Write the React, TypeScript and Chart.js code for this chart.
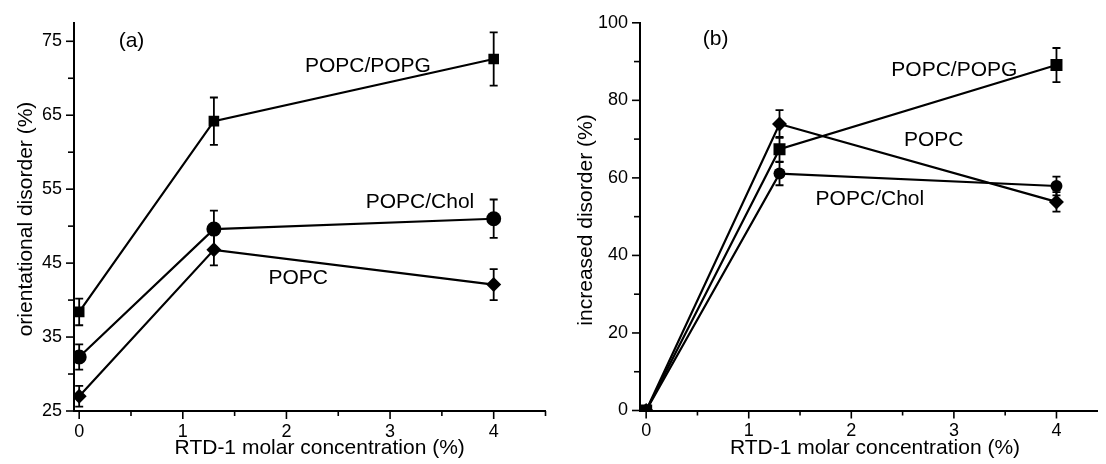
import React, { useEffect, useRef } from "react";
import { Chart, registerables } from "chart.js";

Chart.register(...registerables);

// ---------- data ----------
const xValues = [0, 1.3, 4];

// Panel (a): orientational disorder (%)
const aPopcPopg = [38.4, 64.2, 72.6];
const aPopcPopgErr = [1.8, 3.2, 3.6];
const aPopcChol = [32.3, 49.6, 51.0];
const aPopcCholErr = [1.7, 2.5, 2.6];
const aPopc = [27.0, 46.8, 42.1];
const aPopcErr = [1.4, 2.1, 2.1];

// Panel (b): increased disorder (%)
const bPopcPopg = [0, 67.4, 89.1];
const bPopcPopgErr = [0, 3.2, 4.4];
const bPopcChol = [0, 61.1, 57.9];
const bPopcCholErr = [0, 3.0, 2.4];
const bPopc = [0, 73.9, 53.8];
const bPopcErr = [0, 3.6, 2.5];

// tick values
const xMajor = [0, 1, 2, 3, 4];
const xMinor = [0.5, 1.5, 2.5, 3.5, 4.5];
const aYMajor = [25, 35, 45, 55, 65, 75];
const aYMinor = [30, 40, 50, 60, 70];
const bYMajor = [0, 20, 40, 60, 80, 100];
const bYMinor = [10, 30, 50, 70, 90];

// text labels
const xTitle = "RTD-1 molar concentration (%)";
const aYTitle = "orientational disorder (%)";
const bYTitle = "increased disorder (%)";

const aLabels = [
  { text: "(a)", x: 0.505, y: 74.26, align: "center" },
  { text: "POPC/POPG", x: 2.178, y: 70.78, align: "left" },
  { text: "POPC/Chol", x: 2.765, y: 52.39, align: "left" },
  { text: "POPC", x: 1.827, y: 42.15, align: "left" },
];
const bLabels = [
  { text: "(b)", x: 0.677, y: 94.36, align: "center" },
  { text: "POPC/POPG", x: 2.39, y: 86.4, align: "left" },
  { text: "POPC", x: 2.513, y: 68.2, align: "left" },
  { text: "POPC/Chol", x: 1.652, y: 52.9, align: "left" },
];

const FONT = "'Liberation Sans', Arial, Helvetica, sans-serif";

// ---------- plugins ----------
const errorBarPlugin = {
  id: "errorBars",
  beforeDatasetsDraw(chart: any) {
    const ctx = chart.ctx;
    const xs = chart.scales.x;
    const ys = chart.scales.y;
    ctx.save();
    ctx.strokeStyle = "#000";
    ctx.lineWidth = 1.8;
    chart.data.datasets.forEach((ds: any) => {
      const errs: number[] = ds.errors || [];
      ds.data.forEach((p: any, i: number) => {
        const e = errs[i];
        if (!e) return;
        const px = xs.getPixelForValue(p.x);
        const top = ys.getPixelForValue(p.y + e);
        const bot = ys.getPixelForValue(p.y - e);
        ctx.beginPath();
        ctx.moveTo(px, top);
        ctx.lineTo(px, bot);
        ctx.moveTo(px - 4, top);
        ctx.lineTo(px + 4, top);
        ctx.moveTo(px - 4, bot);
        ctx.lineTo(px + 4, bot);
        ctx.stroke();
      });
    });
    ctx.restore();
  },
};

const axisTickPlugin = {
  id: "axisTicks",
  afterDraw(chart: any, _args: any, opts: any) {
    const ctx = chart.ctx;
    const xs = chart.scales.x;
    const ys = chart.scales.y;
    const area = chart.chartArea;
    ctx.save();
    ctx.strokeStyle = "#000";
    ctx.lineWidth = 1.6;
    const xAxisY = area.bottom;
    const yAxisX = area.left;
    const drawX = (vals: number[], len: number) => {
      vals.forEach((v) => {
        const px = xs.getPixelForValue(v);
        if (px < area.left - 1 || px > area.right + 1) return;
        ctx.beginPath();
        ctx.moveTo(px, xAxisY);
        ctx.lineTo(px, xAxisY + len);
        ctx.stroke();
      });
    };
    const drawY = (vals: number[], len: number) => {
      vals.forEach((v) => {
        const py = ys.getPixelForValue(v);
        if (py < area.top - 1 || py > area.bottom + 1) return;
        ctx.beginPath();
        ctx.moveTo(yAxisX, py);
        ctx.lineTo(yAxisX - len, py);
        ctx.stroke();
      });
    };
    drawX(opts.xMajor, 8);
    drawX(opts.xMinor, 5);
    drawY(opts.yMajor, 8);
    drawY(opts.yMinor, 6);
    ctx.restore();
  },
};

const textLabelPlugin = {
  id: "textLabels",
  afterDraw(chart: any, _args: any, opts: any) {
    const ctx = chart.ctx;
    const xs = chart.scales.x;
    const ys = chart.scales.y;
    ctx.save();
    ctx.fillStyle = "#000";
    ctx.textBaseline = "alphabetic";
    ctx.font = `21px ${FONT}`;
    (opts.items || []).forEach((it: any) => {
      ctx.textAlign = it.align;
      ctx.fillText(it.text, xs.getPixelForValue(it.x), ys.getPixelForValue(it.y));
    });
    // axis titles
    ctx.textAlign = "center";
    ctx.fillText(opts.xTitle, opts.xTitleX, opts.xTitleBase);
    ctx.save();
    ctx.translate(opts.yTitleBase, opts.yTitleY);
    ctx.rotate(-Math.PI / 2);
    ctx.fillText(opts.yTitle, 0, 0);
    ctx.restore();
    ctx.restore();
  },
};

function makeDataset(vals: number[], errs: number[], style: string, radius: number) {
  return {
    data: xValues.map((x, i) => ({ x, y: vals[i] })),
    errors: errs,
    borderColor: "#000",
    backgroundColor: "#000",
    borderWidth: 2.2,
    pointStyle: style,
    pointRadius: radius,
    pointBorderWidth: 0,
    pointBackgroundColor: "#000",
    tension: 0,
    fill: false,
  };
}

function buildConfig(p: any) {
  return {
    type: "line",
    data: { datasets: p.datasets },
    plugins: [errorBarPlugin, axisTickPlugin, textLabelPlugin],
    options: {
      animation: false,
      responsive: false,
      maintainAspectRatio: false,
      layout: { padding: { left: 0, top: p.top, right: p.right, bottom: 0 } },
      plugins: {
        legend: { display: false },
        tooltip: { enabled: false },
        axisTicks: { xMajor, xMinor, yMajor: p.yMajor, yMinor: p.yMinor },
        textLabels: {
          items: p.labels,
          xTitle,
          yTitle: p.yTitle,
          xTitleX: p.xTitleX,
          xTitleBase: p.xTitleBase,
          yTitleY: p.yTitleY,
          yTitleBase: p.yTitleBase,
        },
      },
      scales: {
        x: {
          type: "linear",
          min: p.xMin,
          max: p.xMax,
          grid: { display: true, drawOnChartArea: false, drawTicks: false },
          border: { display: true, color: "#000", width: 2 },
          ticks: {
            color: "#000",
            font: { family: FONT, size: 18 },
            padding: 10,
            maxRotation: 0,
            autoSkip: false,
          },
          afterBuildTicks: (s: any) => {
            s.ticks = xMajor.map((v) => ({ value: v }));
          },
          afterFit: (s: any) => {
            s.height = 464 - p.bottom;
          },
        },
        y: {
          type: "linear",
          min: p.yMin,
          max: p.yMax,
          grid: { display: true, drawOnChartArea: false, drawTicks: false },
          border: { display: true, color: "#000", width: 2 },
          ticks: {
            color: "#000",
            font: { family: FONT, size: 18 },
            padding: 12,
            autoSkip: false,
          },
          afterBuildTicks: (s: any) => {
            s.ticks = p.yMajor.map((v: number) => ({ value: v }));
          },
          afterFit: (s: any) => {
            s.width = p.left;
          },
        },
      },
    },
  };
}

function Panel(props: { cfg: any; left: number }) {
  const ref = useRef<HTMLCanvasElement | null>(null);
  useEffect(() => {
    if (!ref.current) return;
    const chart = new Chart(ref.current, buildConfig(props.cfg) as any);
    return () => chart.destroy();
  }, []);
  return (
    <canvas
      ref={ref}
      width={553}
      height={464}
      style={{ position: "absolute", left: props.left, top: 0, width: 553, height: 464 }}
    />
  );
}

const panelA = {
  datasets: [
    makeDataset(aPopcPopg, aPopcPopgErr, "rect", 7.5),
    makeDataset(aPopcChol, aPopcCholErr, "circle", 7.5),
    makeDataset(aPopc, aPopcErr, "rectRot", 7.5),
  ],
  xMin: -0.05,
  xMax: 4.5,
  yMin: 25,
  yMax: 77.5,
  yMajor: aYMajor,
  yMinor: aYMinor,
  yTitle: aYTitle,
  labels: aLabels,
  left: 74,
  top: 16,
  right: 3.7,
  bottom: 411,
  xTitleX: 319.7,
  xTitleBase: 454,
  yTitleY: 219,
  yTitleBase: 31.7,
};

const panelB = {
  datasets: [
    makeDataset(bPopcPopg, bPopcPopgErr, "rect", 8.5),
    makeDataset(bPopcChol, bPopcCholErr, "circle", 6),
    makeDataset(bPopc, bPopcErr, "rectRot", 7.5),
  ],
  xMin: -0.06,
  xMax: 4.4,
  yMin: 0,
  yMax: 100,
  yMajor: bYMajor,
  yMinor: bYMinor,
  yTitle: bYTitle,
  labels: bLabels,
  left: 87,
  top: 18.3,
  right: 0,
  bottom: 410.5,
  xTitleX: 322,
  xTitleBase: 454,
  yTitleY: 220,
  yTitleBase: 38.7,
};

export default function App() {
  return (
    <div
      style={{
        position: "absolute",
        left: 0,
        top: 0,
        width: 1106,
        height: 464,
        background: "#fff",
        overflow: "hidden",
      }}
    >
      <Panel cfg={panelA} left={0} />
      <Panel cfg={panelB} left={553} />
    </div>
  );
}
